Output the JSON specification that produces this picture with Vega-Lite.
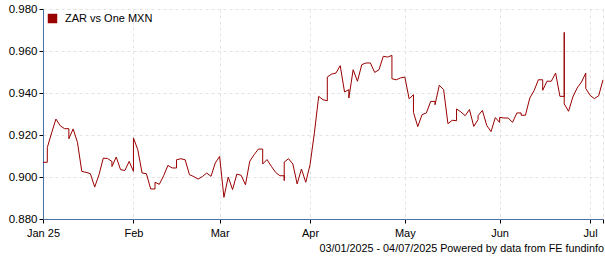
{
  "$schema": "https://vega.github.io/schema/vega-lite/v6.json",
  "autosize": "none",
  "width": 560,
  "height": 210,
  "padding": {"left": 43, "top": 9, "right": 2, "bottom": 41},
  "background": "white",
  "config": {
    "view": {"stroke": null},
    "font": "Liberation Sans"
  },
  "title": {
    "text": "03/01/2025 - 04/07/2025 Powered by data from FE fundinfo",
    "orient": "bottom",
    "anchor": "end",
    "frame": "group",
    "fontSize": 10.8,
    "fontWeight": "normal",
    "font": "Liberation Sans",
    "color": "#000",
    "offset": 5,
    "dx": 1
  },
  "data": {
    "values": [
      {"date": "2025-01-03", "value": 0.907},
      {"date": "2025-01-06", "value": 0.907},
      {"date": "2025-01-06", "value": 0.914},
      {"date": "2025-01-07", "value": 0.921},
      {"date": "2025-01-08", "value": 0.9276},
      {"date": "2025-01-09", "value": 0.9244},
      {"date": "2025-01-10", "value": 0.923},
      {"date": "2025-01-13", "value": 0.923},
      {"date": "2025-01-13", "value": 0.9182},
      {"date": "2025-01-14", "value": 0.9229},
      {"date": "2025-01-15", "value": 0.9165},
      {"date": "2025-01-16", "value": 0.9027},
      {"date": "2025-01-17", "value": 0.9022},
      {"date": "2025-01-20", "value": 0.9016},
      {"date": "2025-01-21", "value": 0.8952},
      {"date": "2025-01-22", "value": 0.9011},
      {"date": "2025-01-23", "value": 0.909},
      {"date": "2025-01-24", "value": 0.9088},
      {"date": "2025-01-27", "value": 0.9074},
      {"date": "2025-01-27", "value": 0.905},
      {"date": "2025-01-28", "value": 0.9095},
      {"date": "2025-01-29", "value": 0.9035},
      {"date": "2025-01-30", "value": 0.9031},
      {"date": "2025-01-31", "value": 0.9074},
      {"date": "2025-02-03", "value": 0.9027},
      {"date": "2025-02-03", "value": 0.9186},
      {"date": "2025-02-04", "value": 0.913},
      {"date": "2025-02-05", "value": 0.9019},
      {"date": "2025-02-06", "value": 0.9016},
      {"date": "2025-02-07", "value": 0.8943},
      {"date": "2025-02-10", "value": 0.8943},
      {"date": "2025-02-10", "value": 0.8975},
      {"date": "2025-02-11", "value": 0.8965},
      {"date": "2025-02-12", "value": 0.9006},
      {"date": "2025-02-13", "value": 0.9055},
      {"date": "2025-02-14", "value": 0.9043},
      {"date": "2025-02-17", "value": 0.9043},
      {"date": "2025-02-17", "value": 0.9082},
      {"date": "2025-02-18", "value": 0.9087},
      {"date": "2025-02-19", "value": 0.9082},
      {"date": "2025-02-20", "value": 0.9011},
      {"date": "2025-02-21", "value": 0.9002},
      {"date": "2025-02-24", "value": 0.899},
      {"date": "2025-02-25", "value": 0.9002},
      {"date": "2025-02-26", "value": 0.9019},
      {"date": "2025-02-27", "value": 0.9003},
      {"date": "2025-02-28", "value": 0.9067},
      {"date": "2025-03-03", "value": 0.9098},
      {"date": "2025-03-04", "value": 0.8903},
      {"date": "2025-03-05", "value": 0.9},
      {"date": "2025-03-06", "value": 0.894},
      {"date": "2025-03-07", "value": 0.9014},
      {"date": "2025-03-10", "value": 0.9008},
      {"date": "2025-03-11", "value": 0.8963},
      {"date": "2025-03-12", "value": 0.9075},
      {"date": "2025-03-13", "value": 0.9106},
      {"date": "2025-03-14", "value": 0.9133},
      {"date": "2025-03-17", "value": 0.9133},
      {"date": "2025-03-17", "value": 0.9062},
      {"date": "2025-03-18", "value": 0.9083},
      {"date": "2025-03-19", "value": 0.9051},
      {"date": "2025-03-20", "value": 0.9022},
      {"date": "2025-03-21", "value": 0.9006},
      {"date": "2025-03-24", "value": 0.9006},
      {"date": "2025-03-24", "value": 0.8983},
      {"date": "2025-03-24", "value": 0.9071},
      {"date": "2025-03-25", "value": 0.9087},
      {"date": "2025-03-26", "value": 0.9062},
      {"date": "2025-03-27", "value": 0.8967},
      {"date": "2025-03-28", "value": 0.9038},
      {"date": "2025-03-31", "value": 0.8975},
      {"date": "2025-04-01", "value": 0.9059},
      {"date": "2025-04-02", "value": 0.921},
      {"date": "2025-04-03", "value": 0.9384},
      {"date": "2025-04-04", "value": 0.9368},
      {"date": "2025-04-07", "value": 0.9363},
      {"date": "2025-04-07", "value": 0.9476},
      {"date": "2025-04-08", "value": 0.949},
      {"date": "2025-04-09", "value": 0.9495},
      {"date": "2025-04-10", "value": 0.953},
      {"date": "2025-04-11", "value": 0.9405},
      {"date": "2025-04-14", "value": 0.9416},
      {"date": "2025-04-14", "value": 0.9376},
      {"date": "2025-04-15", "value": 0.9511},
      {"date": "2025-04-16", "value": 0.9456},
      {"date": "2025-04-17", "value": 0.9535},
      {"date": "2025-04-18", "value": 0.9543},
      {"date": "2025-04-21", "value": 0.9543},
      {"date": "2025-04-22", "value": 0.9498},
      {"date": "2025-04-23", "value": 0.9511},
      {"date": "2025-04-24", "value": 0.9575},
      {"date": "2025-04-25", "value": 0.9571},
      {"date": "2025-04-28", "value": 0.9579},
      {"date": "2025-04-28", "value": 0.9468},
      {"date": "2025-04-29", "value": 0.9463},
      {"date": "2025-04-30", "value": 0.9472},
      {"date": "2025-05-01", "value": 0.9476},
      {"date": "2025-05-02", "value": 0.9372},
      {"date": "2025-05-05", "value": 0.9392},
      {"date": "2025-05-05", "value": 0.9308},
      {"date": "2025-05-06", "value": 0.924},
      {"date": "2025-05-07", "value": 0.9297},
      {"date": "2025-05-08", "value": 0.9305},
      {"date": "2025-05-09", "value": 0.936},
      {"date": "2025-05-12", "value": 0.936},
      {"date": "2025-05-12", "value": 0.9344},
      {"date": "2025-05-13", "value": 0.9437},
      {"date": "2025-05-14", "value": 0.9416},
      {"date": "2025-05-15", "value": 0.9254},
      {"date": "2025-05-16", "value": 0.927},
      {"date": "2025-05-19", "value": 0.9268},
      {"date": "2025-05-19", "value": 0.9324},
      {"date": "2025-05-20", "value": 0.931},
      {"date": "2025-05-21", "value": 0.9292},
      {"date": "2025-05-22", "value": 0.9321},
      {"date": "2025-05-23", "value": 0.9241},
      {"date": "2025-05-26", "value": 0.9273},
      {"date": "2025-05-26", "value": 0.9292},
      {"date": "2025-05-27", "value": 0.9317},
      {"date": "2025-05-28", "value": 0.9246},
      {"date": "2025-05-29", "value": 0.9216},
      {"date": "2025-05-30", "value": 0.9283},
      {"date": "2025-06-02", "value": 0.926},
      {"date": "2025-06-02", "value": 0.9284},
      {"date": "2025-06-03", "value": 0.9281},
      {"date": "2025-06-04", "value": 0.9281},
      {"date": "2025-06-05", "value": 0.926},
      {"date": "2025-06-06", "value": 0.9305},
      {"date": "2025-06-09", "value": 0.9305},
      {"date": "2025-06-09", "value": 0.9294},
      {"date": "2025-06-10", "value": 0.9294},
      {"date": "2025-06-11", "value": 0.9376},
      {"date": "2025-06-12", "value": 0.9411},
      {"date": "2025-06-13", "value": 0.9463},
      {"date": "2025-06-16", "value": 0.9463},
      {"date": "2025-06-16", "value": 0.9413},
      {"date": "2025-06-17", "value": 0.9456},
      {"date": "2025-06-18", "value": 0.9456},
      {"date": "2025-06-19", "value": 0.9495},
      {"date": "2025-06-20", "value": 0.9384},
      {"date": "2025-06-23", "value": 0.9384},
      {"date": "2025-06-23", "value": 0.9689},
      {"date": "2025-06-23", "value": 0.9348},
      {"date": "2025-06-24", "value": 0.9313},
      {"date": "2025-06-25", "value": 0.9381},
      {"date": "2025-06-26", "value": 0.9424},
      {"date": "2025-06-27", "value": 0.9452},
      {"date": "2025-06-30", "value": 0.9495},
      {"date": "2025-06-30", "value": 0.9421},
      {"date": "2025-07-01", "value": 0.9389},
      {"date": "2025-07-02", "value": 0.9373},
      {"date": "2025-07-03", "value": 0.9387},
      {"date": "2025-07-04", "value": 0.9463}
    ]
  },
  "mark": {"type": "line", "strokeWidth": 1, "interpolate": "linear"},
  "encoding": {
    "x": {
      "field": "date",
      "type": "ordinal",
      "scale": {"type": "point", "padding": 0},
      "axis": {
        "title": null,
        "values": ["2025-01-03", "2025-02-03", "2025-03-03", "2025-04-01", "2025-05-01", "2025-06-02", "2025-07-01", "2025-07-04"],
        "labelExpr": "datum.value == '2025-01-03' ? 'Jan 25' : datum.value == '2025-02-03' ? 'Feb' : datum.value == '2025-03-03' ? 'Mar' : datum.value == '2025-04-01' ? 'Apr' : datum.value == '2025-05-01' ? 'May' : datum.value == '2025-06-02' ? 'Jun' : datum.value == '2025-07-01' ? 'Jul' : ''",
        "labelAngle": 0,
        "labelFont": "Liberation Sans",
        "labelFontSize": 11,
        "labelColor": "#000",
        "labelPadding": 4,
        "domainColor": "#4572A7",
        "domainWidth": 1,
        "tickColor": "#000",
        "tickSize": 4,
        "grid": true,
        "gridColor": "#e3e3e3",
        "gridDash": [3, 3]
      }
    },
    "y": {
      "field": "value",
      "type": "quantitative",
      "scale": {"domain": [0.88, 0.98], "nice": false, "zero": false},
      "axis": {
        "title": null,
        "values": [0.88, 0.9, 0.92, 0.94, 0.96, 0.98],
        "format": ".3f",
        "labelFont": "Liberation Sans",
        "labelFontSize": 11.5,
        "labelColor": "#000",
        "labelPadding": 2,
        "domainColor": "#4572A7",
        "domainWidth": 1,
        "tickColor": "#000",
        "tickSize": 4,
        "grid": true,
        "gridColor": "#e3e3e3",
        "gridDash": [3, 3]
      }
    },
    "color": {
      "datum": "ZAR vs One MXN",
      "type": "nominal",
      "scale": {"range": ["#990000"]},
      "legend": {
        "title": null,
        "orient": "top-left",
        "offset": 4,
        "padding": 0,
        "symbolType": "square",
        "symbolSize": 90,
        "symbolStrokeWidth": 0,
        "symbolFillColor": "#990000",
        "labelFont": "Liberation Sans",
        "labelFontSize": 11,
        "labelColor": "#000",
        "labelOffset": 7
      }
    }
  }
}
